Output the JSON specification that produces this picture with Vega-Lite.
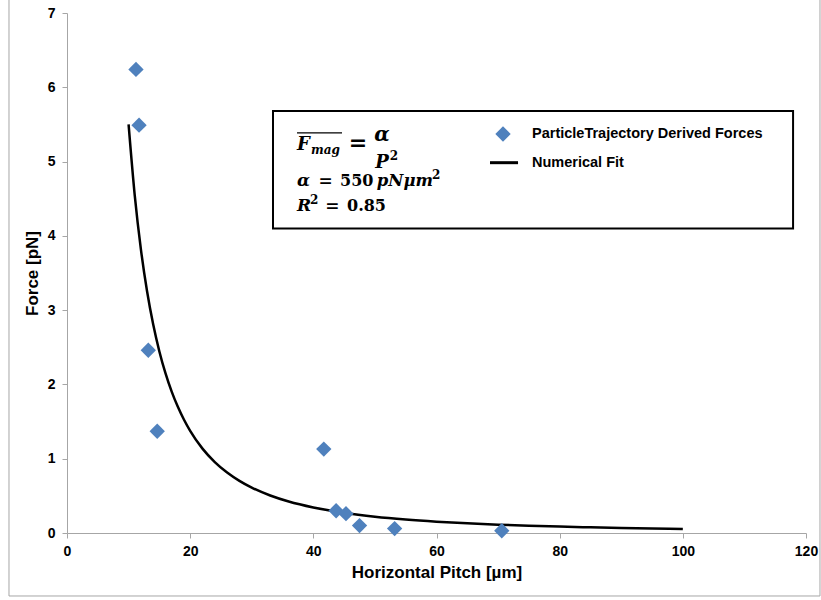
{
  "$schema": "https://vega.github.io/schema/vega-lite/v6.json",
  "width": 739,
  "height": 520,
  "autosize": "none",
  "padding": {"left": 67, "top": 13, "right": 15, "bottom": 67},
  "background": "white",
  "config": {"view": {"stroke": null}, "font": "Liberation Sans"},
  "data": {"values": [{}]},
  "datasets": {
    "points": [
      {"pitch": 11.2, "force": 6.24},
      {"pitch": 11.7, "force": 5.49},
      {"pitch": 13.2, "force": 2.46},
      {"pitch": 14.65, "force": 1.37},
      {"pitch": 41.7, "force": 1.13},
      {"pitch": 43.7, "force": 0.30},
      {"pitch": 45.3, "force": 0.26},
      {"pitch": 47.5, "force": 0.10},
      {"pitch": 53.2, "force": 0.06},
      {"pitch": 70.6, "force": 0.03}
    ],
    "fit": [
      {"pitch": 10, "force": 5.5},
      {"pitch": 11, "force": 4.545},
      {"pitch": 12, "force": 3.819},
      {"pitch": 13, "force": 3.254},
      {"pitch": 14, "force": 2.806},
      {"pitch": 15, "force": 2.444},
      {"pitch": 16, "force": 2.148},
      {"pitch": 17, "force": 1.903},
      {"pitch": 18, "force": 1.698},
      {"pitch": 19, "force": 1.524},
      {"pitch": 20, "force": 1.375},
      {"pitch": 22, "force": 1.136},
      {"pitch": 24, "force": 0.955},
      {"pitch": 26, "force": 0.814},
      {"pitch": 28, "force": 0.702},
      {"pitch": 30, "force": 0.611},
      {"pitch": 33, "force": 0.505},
      {"pitch": 36, "force": 0.424},
      {"pitch": 40, "force": 0.344},
      {"pitch": 45, "force": 0.272},
      {"pitch": 50, "force": 0.22},
      {"pitch": 55, "force": 0.182},
      {"pitch": 60, "force": 0.153},
      {"pitch": 65, "force": 0.130},
      {"pitch": 70, "force": 0.112},
      {"pitch": 75, "force": 0.098},
      {"pitch": 80, "force": 0.086},
      {"pitch": 85, "force": 0.076},
      {"pitch": 90, "force": 0.068},
      {"pitch": 95, "force": 0.061},
      {"pitch": 100, "force": 0.055}
    ]
  },
  "resolve": {"scale": {"x": "shared", "y": "shared"}},
  "layer": [
    {
      "mark": {"type": "rect", "fill": null, "stroke": "#a6a6a6", "strokeWidth": 1, "clip": false},
      "encoding": {
        "x": {"datum": -9.42, "type": "quantitative", "scale": {"domain": [0, 120], "nice": false, "zero": false},
          "axis": {"values": [0, 20, 40, 60, 80, 100, 120], "format": "d", "labelFlush": false, "title": "Horizontal Pitch [µm]", "grid": false,
            "domainColor": "#a6a6a6", "tickColor": "#a6a6a6", "tickSize": 5, "labelFont": "Liberation Sans",
            "labelFontWeight": "bold", "labelFontSize": 14, "labelColor": "#000000", "labelPadding": 6,
            "titleFont": "Liberation Sans", "titleFontWeight": "bold", "titleFontSize": 17, "titleColor": "#000000", "titlePadding": 6}},
        "x2": {"datum": 122.27},
        "y": {"datum": -0.848, "type": "quantitative", "scale": {"domain": [0, 7], "nice": false, "zero": false},
          "axis": {"values": [0, 1, 2, 3, 4, 5, 6, 7], "format": "d", "labelFlush": false, "title": "Force [pN]", "grid": false,
            "domainColor": "#a6a6a6", "tickColor": "#a6a6a6", "tickSize": 5, "labelFont": "Liberation Sans",
            "labelFontWeight": "bold", "labelFontSize": 14, "labelColor": "#000000", "labelPadding": 7,
            "titleFont": "Liberation Sans", "titleFontWeight": "bold", "titleFontSize": 17, "titleColor": "#000000", "titlePadding": 6}},
        "y2": {"datum": 7.4}
      }
    },
    {
      "mark": {"type": "rect", "fill": "white", "stroke": "black", "strokeWidth": 2},
      "encoding": {
        "x": {"datum": 33.45}, "x2": {"datum": 117.9},
        "y": {"datum": 4.10}, "y2": {"datum": 5.68}
      }
    },
    {
      "data": {"name": "fit"},
      "mark": {"type": "line", "color": "black", "strokeWidth": 2.5, "interpolate": "monotone"},
      "encoding": {
        "x": {"field": "pitch", "type": "quantitative"},
        "y": {"field": "force", "type": "quantitative"}
      }
    },
    {
      "data": {"name": "points"},
      "mark": {"type": "point", "shape": "diamond", "filled": true, "size": 235, "color": "#4f81bd", "opacity": 1},
      "encoding": {
        "x": {"field": "pitch", "type": "quantitative"},
        "y": {"field": "force", "type": "quantitative"}
      }
    },
    {
      "mark": {"type": "text", "text": "F", "font": "DejaVu Serif", "fontWeight": "bold", "fontStyle": "italic", "fontSize": 18, "align": "left", "baseline": "alphabetic", "color": "black"},
      "encoding": {"x": {"datum": 37.35}, "y": {"datum": 5.156}}
    },
    {
      "mark": {"type": "text", "text": "mag", "font": "DejaVu Serif", "fontWeight": "bold", "fontStyle": "italic", "fontSize": 12, "align": "left", "baseline": "alphabetic", "color": "black"},
      "encoding": {"x": {"datum": 39.62}, "y": {"datum": 5.102}}
    },
    {
      "mark": {"type": "rule", "color": "black", "strokeWidth": 1.3},
      "encoding": {"x": {"datum": 37.35}, "x2": {"datum": 44.66}, "y": {"datum": 5.385}}
    },
    {
      "mark": {"type": "text", "text": "=", "font": "DejaVu Serif", "fontWeight": "bold", "fontSize": 22, "align": "center", "baseline": "alphabetic", "color": "black"},
      "encoding": {"x": {"datum": 47.25}, "y": {"datum": 5.156}}
    },
    {
      "mark": {"type": "text", "text": "α", "font": "DejaVu Serif", "fontWeight": "bold", "fontStyle": "italic", "fontSize": 20, "align": "center", "baseline": "alphabetic", "color": "black"},
      "encoding": {"x": {"datum": 51.15}, "y": {"datum": 5.277}}
    },
    {
      "mark": {"type": "text", "text": "P", "font": "DejaVu Serif", "fontWeight": "bold", "fontStyle": "italic", "fontSize": 18, "align": "center", "baseline": "alphabetic", "color": "black"},
      "encoding": {"x": {"datum": 51.15}, "y": {"datum": 4.920}}
    },
    {
      "mark": {"type": "text", "text": "2", "font": "DejaVu Serif", "fontWeight": "bold", "fontSize": 12, "align": "left", "baseline": "alphabetic", "color": "black"},
      "encoding": {"x": {"datum": 52.4}, "y": {"datum": 5.021}}
    },
    {
      "mark": {"type": "text", "text": "α", "font": "DejaVu Serif", "fontWeight": "bold", "fontStyle": "italic", "fontSize": 17, "align": "left", "baseline": "alphabetic", "color": "black"},
      "encoding": {"x": {"datum": 37.35}, "y": {"datum": 4.671}}
    },
    {
      "mark": {"type": "text", "text": "=", "font": "DejaVu Serif", "fontWeight": "bold", "fontSize": 17, "align": "center", "baseline": "alphabetic", "color": "black"},
      "encoding": {"x": {"datum": 41.98}, "y": {"datum": 4.671}}
    },
    {
      "mark": {"type": "text", "text": "550", "font": "DejaVu Serif", "fontWeight": "bold", "fontSize": 16, "align": "left", "baseline": "alphabetic", "color": "black"},
      "encoding": {"x": {"datum": 44.33}, "y": {"datum": 4.671}}
    },
    {
      "mark": {"type": "text", "text": "pNμm", "font": "DejaVu Serif", "fontWeight": "bold", "fontStyle": "italic", "fontSize": 16.5, "align": "left", "baseline": "alphabetic", "color": "black"},
      "encoding": {"x": {"datum": 50.3}, "y": {"datum": 4.671}}
    },
    {
      "mark": {"type": "text", "text": "2", "font": "DejaVu Serif", "fontWeight": "bold", "fontSize": 12, "align": "left", "baseline": "alphabetic", "color": "black"},
      "encoding": {"x": {"datum": 59.27}, "y": {"datum": 4.765}}
    },
    {
      "mark": {"type": "text", "text": "R", "font": "DejaVu Serif", "fontWeight": "bold", "fontStyle": "italic", "fontSize": 17, "align": "left", "baseline": "alphabetic", "color": "black"},
      "encoding": {"x": {"datum": 37.35}, "y": {"datum": 4.328}}
    },
    {
      "mark": {"type": "text", "text": "2", "font": "DejaVu Serif", "fontWeight": "bold", "fontSize": 12, "align": "left", "baseline": "alphabetic", "color": "black"},
      "encoding": {"x": {"datum": 39.46}, "y": {"datum": 4.429}}
    },
    {
      "mark": {"type": "text", "text": "=", "font": "DejaVu Serif", "fontWeight": "bold", "fontSize": 17, "align": "center", "baseline": "alphabetic", "color": "black"},
      "encoding": {"x": {"datum": 43.11}, "y": {"datum": 4.328}}
    },
    {
      "mark": {"type": "text", "text": "0.85", "font": "DejaVu Serif", "fontWeight": "bold", "fontSize": 16, "align": "left", "baseline": "alphabetic", "color": "black"},
      "encoding": {"x": {"datum": 45.47}, "y": {"datum": 4.328}}
    },
    {
      "mark": {"type": "point", "shape": "diamond", "filled": true, "size": 235, "color": "#4f81bd", "opacity": 1},
      "encoding": {"x": {"datum": 70.80}, "y": {"datum": 5.371}}
    },
    {
      "mark": {"type": "rule", "color": "black", "strokeWidth": 3},
      "encoding": {"x": {"datum": 68.69}, "x2": {"datum": 73.24}, "y": {"datum": 4.985}}
    },
    {
      "mark": {"type": "text", "text": "ParticleTrajectory Derived Forces", "font": "Liberation Sans", "fontWeight": "bold", "fontSize": 14.5, "align": "left", "baseline": "middle", "color": "black"},
      "encoding": {"x": {"datum": 75.51}, "y": {"datum": 5.371}}
    },
    {
      "mark": {"type": "text", "text": "Numerical Fit", "font": "Liberation Sans", "fontWeight": "bold", "fontSize": 14.5, "align": "left", "baseline": "middle", "color": "black"},
      "encoding": {"x": {"datum": 75.51}, "y": {"datum": 4.981}}
    }
  ]
}
